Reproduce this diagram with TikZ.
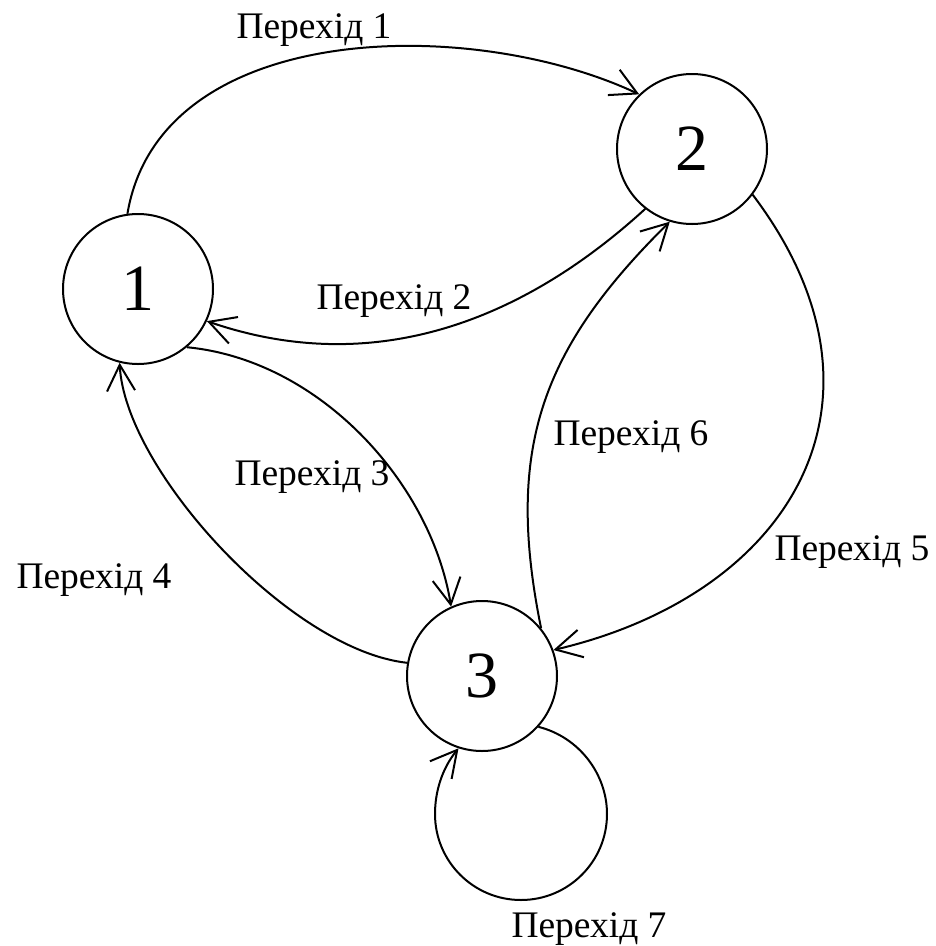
\documentclass[tikz,border=0pt]{standalone}
\usepackage{fontspec}
\setmainfont{Liberation Serif}
\usetikzlibrary{arrows.meta}
\begin{document}
\begin{tikzpicture}[x=1pt,y=-1pt,
  state/.style={circle,draw,line width=2pt,minimum size=150pt,inner sep=0pt,font=\fontsize{66}{70}\selectfont},
  lbl/.style={anchor=base,font=\fontsize{37.5}{40}\selectfont,inner sep=0pt},
  edge/.style={line width=2pt,-{Straight Barb[length=26pt,width=28pt]}}]
\useasboundingbox (0,0) rectangle (936,946);
\node[state] (n1) at (138,289) {1};
\node[state] (n2) at (692,149) {2};
\node[state] (n3) at (482,676) {3};
% edges
\draw[edge] (n1.98) .. controls (160,20) and (470,15) .. (n2.134);
\draw[edge] (n2.232) .. controls (515,328) and (366,376) .. (n1.335);
\draw[edge] (n1.310) .. controls (320,360) and (431,483) .. (n3.114);
\draw[edge] (n3.170) .. controls (290,650) and (125,470) .. (n1.256);
\draw[edge] (n2.323) .. controls (908,400) and (792,594) .. (n3.20);
\draw[edge] (n3.39) .. controls (505,450) and (540,350) .. (n2.253);
\draw[edge] (n3.318) .. controls (579,737) and (607,774) .. (607,814)
  .. controls (607,861.5) and (568.5,900) .. (521,900)
  .. controls (473.5,900) and (435,861.5) .. (435,814)
  .. controls (435,792) and (441.8,768.8) .. (n3.252);
% labels
\node[lbl] (l1) at (314,38) {Перехід 1};
\node[lbl] (l2) at (394,309) {Перехід 2};
\node[lbl] (l3) at (312,485) {Перехід 3};
\node[lbl] (l4) at (94,588) {Перехід 4};
\node[lbl] (l5) at (852,560) {Перехід 5};
\node[lbl] (l6) at (631,445) {Перехід 6};
\node[lbl] (l7) at (589,937) {Перехід 7};
\end{tikzpicture}
\end{document}
